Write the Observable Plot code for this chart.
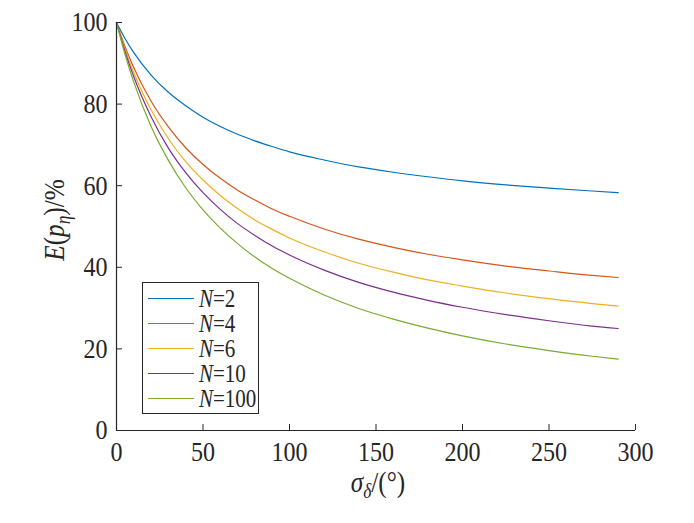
<!DOCTYPE html>
<html>
<head>
<meta charset="utf-8">
<script src="https://cdn.jsdelivr.net/npm/d3@7"></script>
<script src="https://cdn.jsdelivr.net/npm/@observablehq/plot@0.6"></script>
<style>
  html, body { margin: 0; padding: 0; background: #fff; }
  #wrap { position: relative; width: 694px; height: 523px; }
  #legend {
    position: absolute; left: 142px; top: 282px; width: 115px; height: 130px;
    border: 1px solid #262626; background: #fff; box-sizing: content-box;
    font-family: "Liberation Serif", serif; font-size: 25px; color: #262626;
  }
  .row { position: absolute; left: 0; height: 25px; width: 115px; }
  .sw { position: absolute; left: 5px; top: 12px; width: 46px; height: 0; border-top: 1.2px solid; }
  .lab { position: absolute; left: 56px; top: -2px; white-space: nowrap; transform: scaleX(0.84); transform-origin: 0 50%; line-height: 29px; }
  .lab i { font-style: italic; }
</style>
</head>
<body>
<div id="wrap"></div>
<script>
// σδ (degrees)
const sigma = [0, 5, 10, 20, 30, 40, 50, 60, 70, 80, 90, 100, 120, 140, 160, 180, 200, 225, 250, 275, 290];
// E(pη) in %
const n2   = [100, 96.0, 92.6, 87.1, 82.9, 79.6, 76.8, 74.5, 72.6, 71.0, 69.6, 68.3, 66.3, 64.6, 63.3, 62.2, 61.2, 60.2, 59.4, 58.7, 58.3];
const n4   = [100, 94.0, 88.9, 80.7, 74.4, 69.3, 65.2, 61.8, 58.9, 56.5, 54.3, 52.5, 49.4, 46.9, 44.9, 43.2, 41.8, 40.3, 39.1, 38.0, 37.5];
const n6   = [100, 93.4, 87.7, 78.6, 71.5, 65.9, 61.4, 57.6, 54.4, 51.6, 49.3, 47.2, 43.8, 41.0, 38.8, 36.9, 35.4, 33.7, 32.3, 31.1, 30.5];
const n10  = [100, 92.8, 86.7, 76.9, 69.2, 63.2, 58.3, 54.2, 50.7, 47.8, 45.2, 43.0, 39.3, 36.3, 33.9, 31.9, 30.2, 28.4, 26.9, 25.6, 25.0];
const n100 = [100, 92.1, 85.4, 74.5, 66.2, 59.5, 54.1, 49.6, 45.8, 42.5, 39.7, 37.3, 33.2, 29.9, 27.3, 25.1, 23.2, 21.2, 19.6, 18.2, 17.5];

const seriesNames = ["2", "4", "6", "10", "100"];
const seriesValues = [n2, n4, n6, n10, n100];
const colors = ["#0072BD", "#D95319", "#EDB120", "#7E2F8E", "#77AC30"];
const xTicks = [0, 50, 100, 150, 200, 250, 300];
const yTicks = [0, 20, 40, 60, 80, 100];

const rows = [];
seriesNames.forEach((n, k) => {
  seriesValues[k].forEach((v, i) => rows.push({N: n, s: sigma[i], e: v}));
});

const axisColor = "#262626";
const chart = Plot.plot({
  width: 694,
  height: 523,
  marginLeft: 116,
  marginRight: 59,
  marginTop: 22,
  marginBottom: 93,
  style: {fontFamily: "Liberation Serif, serif", fontSize: "28px", color: axisColor, background: "#fff", overflow: "visible"},
  x: {domain: [0, 300]},
  y: {domain: [0, 100]},
  color: {domain: seriesNames, range: colors},
  marks: [
    Plot.axisX({ticks: xTicks, tickSize: 0, tickPadding: 11, label: null, fontSize: 28, stroke: null}),
    Plot.axisX({ticks: xTicks, tickSize: -6, tickFormat: () => "", label: null, stroke: axisColor}),
    Plot.axisY({ticks: yTicks, tickSize: 0, tickPadding: 9, label: null, fontSize: 28, stroke: null}),
    Plot.axisY({ticks: yTicks, tickSize: -6, tickFormat: () => "", label: null, stroke: axisColor}),
    Plot.line(rows, {x: "s", y: "e", stroke: "N", strokeWidth: 1.2, curve: "monotone-x"}),
    Plot.ruleY([0], {stroke: axisColor, strokeWidth: 1.2}),
    Plot.ruleX([0], {stroke: axisColor, strokeWidth: 1.2})
  ]
});

const wrap = document.getElementById("wrap");
wrap.appendChild(chart);

const svg = d3.select(chart);
// condense tick-label glyphs horizontally (reference font is narrow)
svg.selectAll('g[aria-label="x-axis tick label"] text, g[aria-label="y-axis tick label"] text')
  .each(function () {
    const t = this.getAttribute("transform") || "";
    this.setAttribute("transform", t + " scale(0.86,1)");
  });

// y label: E(pη)/%
const yl = svg.append("text")
  .attr("transform", "translate(64,220) rotate(-90) scale(0.87,1)")
  .attr("text-anchor", "middle")
  .attr("font-family", "Liberation Serif, serif")
  .attr("font-size", 29)
  .attr("fill", axisColor);
yl.append("tspan").attr("font-style", "italic").text("E");
yl.append("tspan").text("(");
yl.append("tspan").attr("font-style", "italic").text("p");
yl.append("tspan").attr("font-style", "italic").attr("font-size", 20).attr("dy", 6).text("η");
yl.append("tspan").attr("dy", -6).text(")/%");

// x label: σδ/(°)
const xl = svg.append("text")
  .attr("transform", "translate(378,492) scale(0.87,1)")
  .attr("text-anchor", "middle")
  .attr("font-family", "Liberation Serif, serif")
  .attr("font-size", 29)
  .attr("fill", axisColor);
xl.append("tspan").attr("font-style", "italic").text("σ");
xl.append("tspan").attr("font-style", "italic").attr("font-size", 20).attr("dy", 6).text("δ");
xl.append("tspan").attr("dy", -6).text("/(°)");

// legend
const leg = document.createElement("div");
leg.id = "legend";
seriesNames.forEach((n, k) => {
  const r = document.createElement("div");
  r.className = "row";
  r.style.top = (3 + k * 25) + "px";
  const sw = document.createElement("div");
  sw.className = "sw";
  sw.style.borderTopColor = colors[k];
  const t = document.createElement("span");
  t.className = "lab";
  t.innerHTML = "<i>N</i>=" + n;
  r.appendChild(sw);
  r.appendChild(t);
  leg.appendChild(r);
});
wrap.appendChild(leg);
</script>
</body>
</html>
